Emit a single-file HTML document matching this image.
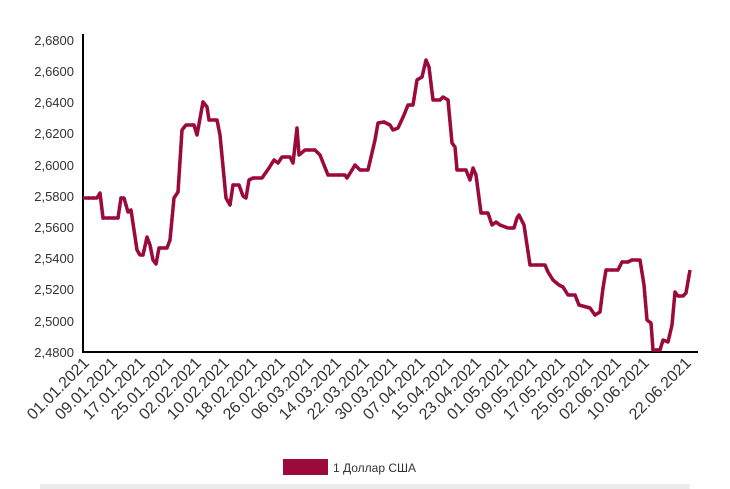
<!DOCTYPE html>
<html><head><meta charset="utf-8"><style>
body{margin:0;background:#fff;}
svg{display:block;font-family:"Liberation Sans",sans-serif;}
</style></head><body>
<svg width="730" height="489" viewBox="0 0 730 489">
<g font-size="13" fill="#333" text-anchor="end">
<text x="74" y="45">2,6800</text>
<text x="74" y="76">2,6600</text>
<text x="74" y="107">2,6400</text>
<text x="74" y="138">2,6200</text>
<text x="74" y="170">2,6000</text>
<text x="74" y="201">2,5800</text>
<text x="74" y="232">2,5600</text>
<text x="74" y="263">2,5400</text>
<text x="74" y="294">2,5200</text>
<text x="74" y="326">2,5000</text>
<text x="74" y="357">2,4800</text>
</g>
<line x1="83" y1="34" x2="83" y2="352" stroke="#000" stroke-width="2"/>
<line x1="82" y1="352" x2="698" y2="352" stroke="#000" stroke-width="2"/>
<g font-size="16" fill="#333" text-anchor="end">
<text transform="translate(90,364) rotate(-45)">01.01.2021</text>
<text transform="translate(118,364) rotate(-45)">09.01.2021</text>
<text transform="translate(146,364) rotate(-45)">17.01.2021</text>
<text transform="translate(174,364) rotate(-45)">25.01.2021</text>
<text transform="translate(202,364) rotate(-45)">02.02.2021</text>
<text transform="translate(230,364) rotate(-45)">10.02.2021</text>
<text transform="translate(258,364) rotate(-45)">18.02.2021</text>
<text transform="translate(286,364) rotate(-45)">26.02.2021</text>
<text transform="translate(314,364) rotate(-45)">06.03.2021</text>
<text transform="translate(342,364) rotate(-45)">14.03.2021</text>
<text transform="translate(370,364) rotate(-45)">22.03.2021</text>
<text transform="translate(398,364) rotate(-45)">30.03.2021</text>
<text transform="translate(426,364) rotate(-45)">07.04.2021</text>
<text transform="translate(454,364) rotate(-45)">15.04.2021</text>
<text transform="translate(482,364) rotate(-45)">23.04.2021</text>
<text transform="translate(510,364) rotate(-45)">01.05.2021</text>
<text transform="translate(538,364) rotate(-45)">09.05.2021</text>
<text transform="translate(566,364) rotate(-45)">17.05.2021</text>
<text transform="translate(594,364) rotate(-45)">25.05.2021</text>
<text transform="translate(622,364) rotate(-45)">02.06.2021</text>
<text transform="translate(650,364) rotate(-45)">10.06.2021</text>
<text transform="translate(692,364) rotate(-45)">22.06.2021</text>
</g>
<polyline id="p" fill="none" stroke="#9b0a3a" stroke-width="3.5" stroke-linejoin="round" points="83,198 97,198 100,193 103,218 118,218 121,198 124,198 128,212 131,210 137,250 140,255 143,255 147,237 150,245 153,260 156,264 159,248 167,248 170,240 174,198 178,192 182,130 186,125 194,125 197,135 203,102 207,107 209,120 217,120 220,135 226,198 230,205 233,185 239,185 243,196 246,198 249,180 253,178 262,178 269,168 274,160 278,163 282,157 290,157 293,163 297,128 299,155 305,150 315,150 320,155 328,175 345,175 347,178 352,170 355,165 360,170 368,170 375,140 378,123 384,122 390,125 393,130 398,128 404,115 408,105 413,105 417,80 422,77 426,60 429,67 433,100 440,100 443,97 448,100 452,143 455,147 457,170 466,170 470,180 473,168 476,175 481,213 488,213 492,225 496,222 500,225 508,228 514,228 517,218 519,215 524,225 527,245 530,265 545,265 548,272 553,280 559,285 563,287 568,295 575,295 579,305 590,308 595,315 600,312 603,288 606,270 618,270 622,262 628,262 632,260 640,260 644,285 647,320 651,323 653,350 660,350 663,340 668,342 672,325 675,292 678,296 683,296 686,293 690,270"/>
<use href="#p" stroke="#f3c9d6" stroke-width="0.8" stroke-dasharray="1 4"/>
<rect x="283" y="459" width="45" height="16" fill="#9b0a3a"/>
<text x="333" y="472" font-size="12" fill="#333">1 Доллар США</text>
<rect x="40" y="484" width="650" height="5" fill="#ececec"/>
</svg>
</body></html>
